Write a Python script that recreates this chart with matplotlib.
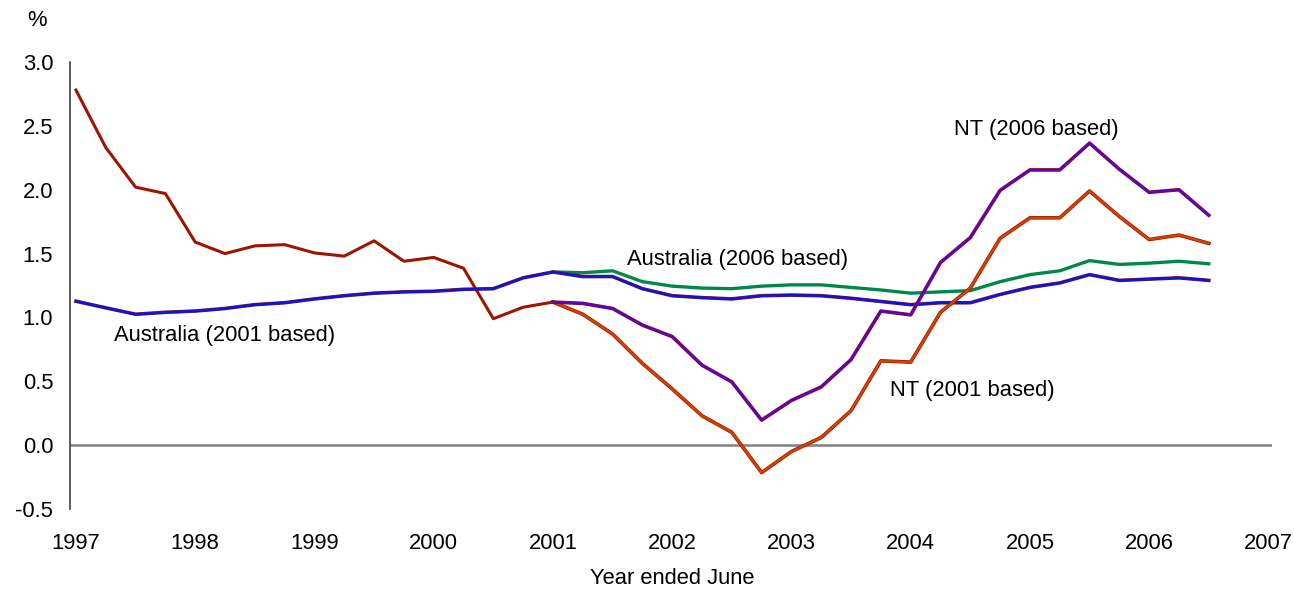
import numpy as np
import matplotlib
matplotlib.use('Agg')
import matplotlib.pyplot as plt
import matplotlib.patheffects as pe

font = {'family': ['Liberation Sans', 'DejaVu Sans'],
        'size': 15.8}
matplotlib.rc('font', **font)

# quarterly, year ended June
quarters_all = np.arange(1997, 2006.51, 0.25)
quarters_new = np.arange(2001, 2006.51, 0.25)

nt_old = [2.78, 2.33, 2.02, 1.97, 1.59, 1.50, 1.56, 1.57, 1.505, 1.48, 1.60, 1.44, 1.47,
          1.385, 0.99, 1.08, 1.12]
nt_2001 = [1.12, 1.025, 0.87, 0.64, 0.44, 0.23, 0.10, -0.215, -0.05, 0.06, 0.27, 0.66,
           0.65, 1.04, 1.23, 1.62, 1.78, 1.78, 1.99, 1.79, 1.61, 1.645, 1.58]
nt_2006 = [1.12, 1.11, 1.07, 0.94, 0.85, 0.626, 0.495, 0.196, 0.35, 0.456, 0.67, 1.05,
           1.02, 1.43, 1.625, 1.995, 2.155, 2.155, 2.365, 2.16, 1.98, 2.0, 1.80]
aus_2001 = [1.127, 1.075, 1.025, 1.04, 1.05, 1.07, 1.10, 1.115, 1.145, 1.17, 1.19, 1.20,
            1.205, 1.22, 1.225, 1.31, 1.356, 1.32, 1.32, 1.225, 1.17, 1.155, 1.145, 1.17,
            1.175, 1.17, 1.15, 1.125, 1.10, 1.115, 1.115, 1.18, 1.235, 1.27, 1.335, 1.29,
            1.30, 1.31, 1.29]
aus_2006 = [1.356, 1.35, 1.365, 1.28, 1.245, 1.23, 1.225, 1.245, 1.255, 1.255, 1.235, 1.215,
            1.19, 1.20, 1.21, 1.28, 1.335, 1.365, 1.445, 1.415, 1.425, 1.44, 1.42]

edge = [pe.Stroke(linewidth=2.6, foreground='#8B1A00'), pe.Normal()]

fig = plt.figure(figsize=(12.94, 5.9), dpi=100)
ax = fig.add_axes([0.0541, 0.1373, 0.9289, 0.7576])

ax.axhline(0, color='#808080', lw=1.8, zorder=1)

ax.plot(quarters_all[:len(nt_old)], nt_old, color='#9C1500', lw=2.2, zorder=2)
ax.plot(quarters_new, aus_2006, color='#00874A', lw=2.4, zorder=3)
ax.plot(quarters_all, aus_2001, color='#0A14E6', lw=1.8, zorder=4, path_effects=edge)
ax.plot(quarters_new, nt_2001, color='#DC4000', lw=1.6, zorder=4, path_effects=edge)
ax.plot(quarters_new, nt_2006, color='#6000C0', lw=1.8, zorder=5, path_effects=edge)

ax.text(1998.25, 0.86, 'Australia (2001 based)', ha='center', va='center')
ax.text(2002.55, 1.45, 'Australia (2006 based)', ha='center', va='center')
ax.text(2005.05, 2.47, 'NT (2006 based)', ha='center', va='center')
ax.text(2004.52, 0.43, 'NT (2001 based)', ha='center', va='center')

ax.set_xlim(1996.95, 2007.03)
ax.set_ylim(-0.5, 3.0)
ax.set_yticks(np.arange(-0.5, 3.01, 0.5))
ax.set_yticklabels(['%.1f' % v for v in np.arange(-0.5, 3.01, 0.5)])
ax.set_xticks(range(1997, 2008))
ax.tick_params(axis='both', length=0)
ax.tick_params(axis='y', pad=12)
ax.tick_params(axis='x', pad=17)

for s in ['top', 'right', 'bottom']:
    ax.spines[s].set_visible(False)
ax.spines['left'].set_color('#404040')
ax.spines['left'].set_linewidth(1.2)

fig.text(37 / 1294, 1 - 20 / 590, '%', ha='center', va='center')
fig.text(672 / 1294, 1 - 578 / 590, 'Year ended June', ha='center', va='center')

plt.savefig('out.png', dpi=100)
